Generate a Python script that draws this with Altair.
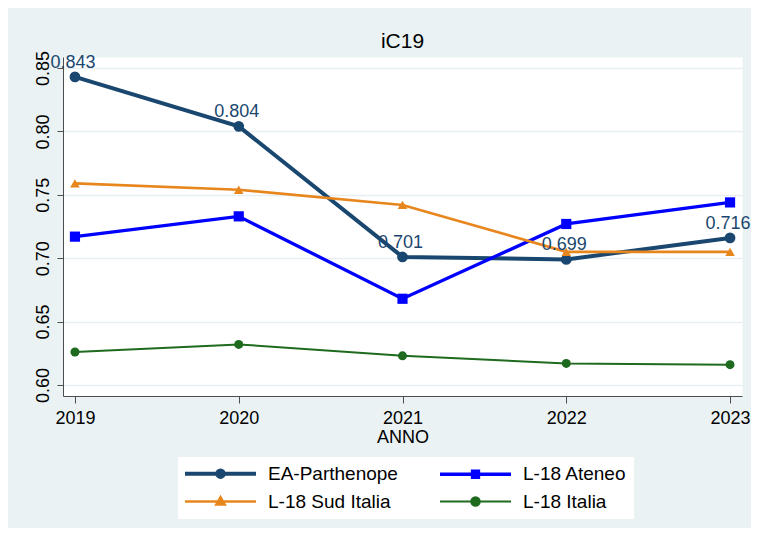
import altair as alt
import pandas as pd

FONT = "Liberation Sans"

years = [2019, 2020, 2021, 2022, 2023]
series_names = ["EA-Parthenope", "L-18 Ateneo", "L-18 Sud Italia", "L-18 Italia"]
ea_vals = [0.843, 0.804, 0.701, 0.699, 0.716]
ateneo_vals = [0.717, 0.733, 0.668, 0.727, 0.744]
sud_vals = [0.759, 0.754, 0.742, 0.705, 0.705]
italia_vals = [0.626, 0.632, 0.623, 0.617, 0.616]
ea_labels = ["0.843", "0.804", "0.701", "0.699", "0.716"]
y_ticks = [0.60, 0.65, 0.70, 0.75, 0.80, 0.85]

colors = ["#1A476F", "#0000FF", "#E8861E", "#1E6A1E"]
line_widths = [4, 2, 2, 2]
point_shapes = ["circle", "square", "triangle-up", "circle"]
point_sizes = [115, 81, 100, 144]

rows = []
for name, vals in zip(series_names, [ea_vals, ateneo_vals, sud_vals, italia_vals]):
    for yr, v in zip(years, vals):
        rows.append({"series": name, "year": yr, "value": v,
                     "label": ea_labels[years.index(yr)] if name == series_names[0] else ""})
df = pd.DataFrame(rows)
df_ea = df[df["series"] == series_names[0]]

# legend symbols: line with marker in the middle (unit = 5px, symbol centre at 9.5px)
L0, L1, C = -1.9, 12.3, 5.2
def circ(r):
    return f"M{C - r},0A{r},{r} 0 1,0 {C + r},0A{r},{r} 0 1,0 {C - r},0Z"
line_part = f"M{L0},0H{L1}"
legend_paths = [
    line_part + circ(0.65),
    line_part + f"M{C - 0.6},-0.6H{C + 0.6}V0.6H{C - 0.6}Z",
    line_part + f"M{C - 0.8},0.6L{C},-0.8L{C + 0.8},0.6Z",
    line_part + circ(0.85),
]

x_scale = alt.Scale(domain=[2018.927, 2023.073], nice=False, zero=False)
y_scale = alt.Scale(domain=[0.5913, 0.8587], nice=False, zero=False)

x_axis = alt.Axis(values=years, format="d", title="ANNO", grid=False,
                  tickSize=7, labelPadding=6, titlePadding=1,
                  labelFontSize=18, titleFontSize=18, titleFontWeight="normal",
                  labelFont=FONT, titleFont=FONT, labelColor="black", titleColor="black",
                  domainColor="#4d4d4d", tickColor="#4d4d4d", labelFlush=False)
y_axis = alt.Axis(values=y_ticks, format=".2f", title=None, grid=True,
                  gridColor="#E6EEF1", gridWidth=1.5,
                  tickSize=6, labelPadding=9, labelAngle=270,
                  labelAlign="center", labelBaseline="alphabetic",
                  labelFontSize=18, labelFont=FONT, labelColor="black",
                  domainColor="#4d4d4d", tickColor="#4d4d4d")

X = alt.X("year:Q", scale=x_scale, axis=x_axis)
Y = alt.Y("value:Q", scale=y_scale, axis=y_axis)

lines = alt.Chart().mark_line().encode(
    x=X, y=Y,
    color=alt.Color("series:N", scale=alt.Scale(domain=series_names, range=colors), legend=None),
    strokeWidth=alt.StrokeWidth("series:N", scale=alt.Scale(domain=series_names, range=line_widths), legend=None),
    detail="series:N",
)

points = alt.Chart().mark_point(filled=True, opacity=1).encode(
    x=X, y=Y,
    color=alt.Color("series:N", scale=alt.Scale(domain=series_names, range=colors), legend=None),
    shape=alt.Shape("series:N", scale=alt.Scale(domain=series_names, range=point_shapes), legend=None),
    size=alt.Size("series:N", scale=alt.Scale(domain=series_names, range=point_sizes), legend=None),
)

labels = alt.Chart(df_ea).mark_text(dy=-14, dx=-2, fontSize=18, font=FONT, color=colors[0],
                                    align="center", baseline="middle").encode(
    x=X, y=Y, text="label:N"
)

# legend-only layer: no rows drawn, entries come from the explicit scale domain
legend_layer = alt.Chart().mark_point(opacity=1, size=100).encode(
    x=alt.value(0), y=alt.value(0),
    shape=alt.Shape("series:N", scale=alt.Scale(domain=series_names, range=legend_paths),
                    legend=alt.Legend(
                        title=None, orient="none", legendX=115, legendY=400,
                        columns=2, direction="horizontal",
                        fillColor="white", padding=7, columnPadding=35, rowPadding=7,
                        symbolSize=100, labelOffset=64, labelFontSize=19, labelFont=FONT,
                        labelColor="black", labelLimit=300, symbolOpacity=1)),
    fill=alt.Fill("series:N", scale=alt.Scale(domain=series_names, range=colors)),
    stroke=alt.Stroke("series:N", scale=alt.Scale(domain=series_names, range=colors)),
    strokeWidth=alt.StrokeWidth("series:N", scale=alt.Scale(domain=series_names, range=line_widths)),
).transform_filter("false")

chart = alt.layer(lines, points, labels, legend_layer, data=df).resolve_scale(
    color="independent", shape="independent", size="independent",
    strokeWidth="independent", fill="independent", stroke="independent"
).properties(
    width=679, height=339,
    title=alt.TitleParams("iC19", fontSize=21, font=FONT, fontWeight="normal",
                          color="black", anchor="middle", frame="group",
                          baseline="alphabetic", offset=0, dy=18),
    background="#EAF2F3",
    padding={"left": 55, "top": 49, "right": 9, "bottom": 132},
    autosize=alt.AutoSizeParams(type="none"),
).configure_view(fill="white", stroke="transparent")

chart.save("out.html", embed_options={"renderer": "svg", "actions": False})
